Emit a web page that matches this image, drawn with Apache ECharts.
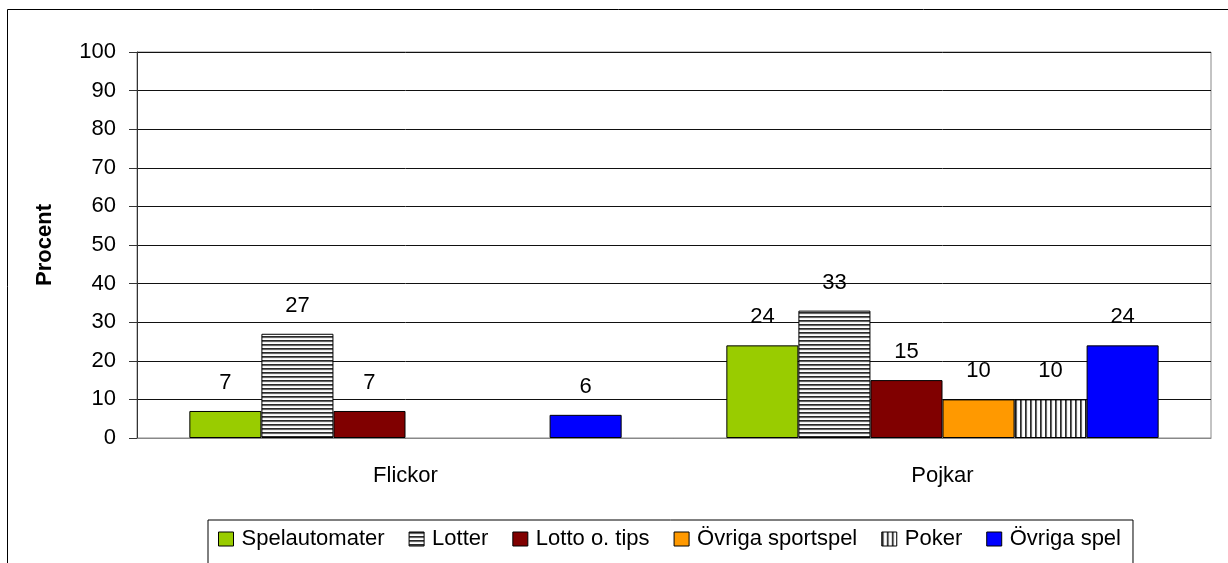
<!DOCTYPE html>
<html>
<head>
<meta charset="utf-8">
<script src="https://cdn.jsdelivr.net/npm/echarts@6/dist/echarts.min.js"></script>
<style>
  html, body { margin: 0; padding: 0; background: #fff; }
  #chart { width: 1228px; height: 563px; }
</style>
</head>
<body>
<div id="chart"></div>
<script>
// kategorier och serier
const categories = ['Flickor', 'Pojkar'];
const seriesNames = ['Spelautomater', 'Lotter', 'Lotto o. tips', 'Övriga sportspel', 'Poker', 'Övriga spel'];
const flickor = [7, 27, 7, null, null, 6];
const pojkar = [24, 33, 15, 10, 10, 24];
const yTicks = [0, 10, 20, 30, 40, 50, 60, 70, 80, 90, 100];

const font = "'Liberation Sans', Arial, sans-serif";

// randiga mönster för Lotter och Poker
function stripes(horizontal) {
  const c = document.createElement('canvas');
  const shades = horizontal ? ['#2a2a2a', '#666', '#eee', '#fff'] : ['#2a2a2a', '#666', '#eee', '#fff', '#fff'];
  c.width = horizontal ? 4 : shades.length;
  c.height = horizontal ? shades.length : 4;
  const ctx = c.getContext('2d');
  shades.forEach((s, i) => {
    ctx.fillStyle = s;
    if (horizontal) ctx.fillRect(0, i, 4, 1);
    else ctx.fillRect(i, 0, 1, 4);
  });
  return { image: c, repeat: 'repeat' };
}

const colors = ['#99CC00', stripes(true), '#800000', '#FF9900', stripes(false), '#0000FF'];

const series = seriesNames.map((name, i) => ({
  name: name,
  type: 'bar',
  barGap: 0,
  barCategoryGap: '19.5%',
  data: [flickor[i] == null ? '-' : flickor[i], pojkar[i] == null ? '-' : pojkar[i]],
  itemStyle: { color: colors[i], borderColor: '#000', borderWidth: 1 },
  label: {
    show: true,
    position: 'top',
    distance: 17,
    color: '#000',
    fontSize: 22,
    fontFamily: font
  }
}));

const chart = echarts.init(document.getElementById('chart'));
chart.setOption({
  animation: false,
  textStyle: { fontFamily: font },
  graphic: [{
    type: 'rect',
    shape: { x: 7.5, y: 9.5, width: 1300, height: 700 },
    style: { fill: 'none', stroke: '#000', lineWidth: 1 },
    silent: true
  }],
  grid: {
    left: 137, right: 17, top: 52, bottom: 125,
    show: true, borderColor: '#888', borderWidth: 1
  },
  legend: {
    data: seriesNames,
    left: 208,
    top: 520,
    icon: 'rect',
    itemWidth: 15,
    itemHeight: 14,
    itemGap: 24,
    padding: [8, 12, 40, 10],
    borderColor: '#000',
    borderWidth: 1,
    itemStyle: { borderColor: '#000', borderWidth: 1 },
    textStyle: { fontSize: 22, color: '#000', fontFamily: font, padding: [0, 0, 0, 3] }
  },
  xAxis: {
    type: 'category',
    data: categories,
    axisLine: { lineStyle: { color: '#888' } },
    axisTick: { length: 8, lineStyle: { color: '#888' } },
    axisLabel: { fontSize: 22, color: '#000', margin: 27 }
  },
  yAxis: {
    type: 'value',
    min: yTicks[0],
    max: yTicks[yTicks.length - 1],
    interval: 10,
    name: 'Procent',
    nameLocation: 'middle',
    nameGap: 81,
    nameRotate: 90,
    nameTextStyle: { fontSize: 22, fontWeight: 'bold', color: '#000' },
    axisLine: { show: true, lineStyle: { color: '#333' } },
    axisTick: { show: true, length: 8, lineStyle: { color: '#333' } },
    axisLabel: { fontSize: 22, color: '#000', margin: 21 },
    splitLine: { lineStyle: { color: '#111', width: 1 } }
  },
  series: series
});
</script>
</body>
</html>
